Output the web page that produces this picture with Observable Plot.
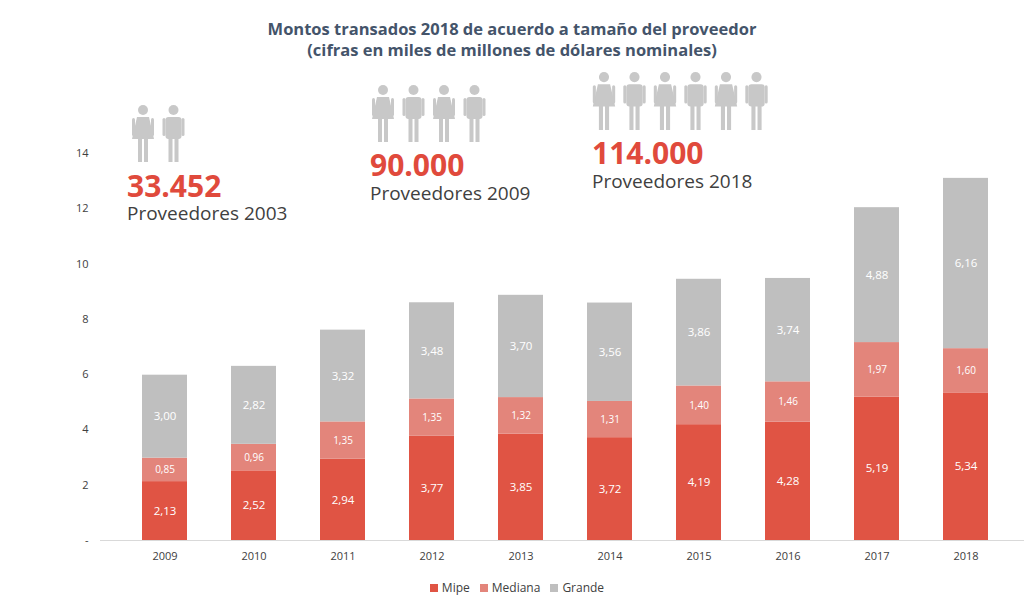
<!DOCTYPE html>
<html><head><meta charset="utf-8">
<script src="https://cdn.jsdelivr.net/npm/d3@7"></script>
<script src="https://cdn.jsdelivr.net/npm/@observablehq/plot@0.6"></script>
<style>
body{margin:0;background:#fff;font-family:"Open Sans",sans-serif;}
#wrap{position:relative;width:1024px;height:610px;}
#title{position:absolute;top:18px;left:0;width:1024px;text-align:center;font-weight:bold;font-size:16.5px;color:#44546a;line-height:21px;}
#chart{position:absolute;top:0;left:0;}
#legend{position:absolute;top:579px;left:0;width:1024px;text-align:center;font-size:12px;color:#404040;}
#legend span.sw{display:inline-block;width:8px;height:8px;margin:0 4px 0 10px;}
#over{position:absolute;top:0;left:0;}
</style></head><body>
<div id="wrap">
<div id="chart"></div>
<div id="title">Montos transados 2018 de acuerdo a tamaño del proveedor<br>(cifras en miles de millones de dólares nominales)</div>
<svg id="over" width="1024" height="240"></svg>
<div id="legend"></div>
</div>
<script>
const years=["2009","2010","2011","2012","2013","2014","2015","2016","2017","2018"];
const mipe=[2.13,2.52,2.94,3.77,3.85,3.72,4.19,4.28,5.19,5.34];
const mediana=[0.85,0.96,1.35,1.35,1.32,1.31,1.40,1.46,1.97,1.60];
const grande=[3.00,2.82,3.32,3.48,3.70,3.56,3.86,3.74,4.88,6.16];
const series=["Mipe","Mediana","Grande"];
const colors=["#e05444","#e3857b","#bfbfbf"];
const callouts=[
 {num:"33.452",label:"Proveedores 2003",n:2,x:127,ix:143,iy:105,sz:57,ny:197,ly:220},
 {num:"90.000",label:"Proveedores 2009",n:4,x:370,ix:383,iy:85,sz:57,ny:176,ly:200},
 {num:"114.000",label:"Proveedores 2018",n:6,x:592,ix:604,iy:72,sz:58,ny:164,ly:188}
];
const data=[];
years.forEach((y,i)=>{[mipe,mediana,grande].forEach((arr,k)=>data.push({year:y,serie:series[k],v:arr[i]}));});
const fmt=d=>d.toFixed(2).replace(".",",");
const chart=Plot.plot({
 width:1024,height:570,marginTop:153,marginBottom:30,marginLeft:100,marginRight:0,
 style:{fontFamily:"Open Sans",fontSize:"11px",color:"#404040"},
 x:{domain:years,range:[95,1035],padding:0.49,label:null,tickSize:0,tickPadding:12},
 y:{domain:[0,14],ticks:[0,2,4,6,8,10,12,14],tickFormat:d=>d===0?"-":d,label:null,tickSize:0,tickPadding:12},
 color:{domain:series,range:colors},
 marks:[
  Plot.ruleY([0],{stroke:"#d9d9d9"}),
  Plot.barY(data,Plot.stackY({x:"year",y:"v",fill:"serie",z:"serie",order:series})),
  Plot.text(data,Plot.stackY({x:"year",y:"v",z:"serie",order:series,text:d=>fmt(d.v),fill:"white",fontSize:d=>d.serie==="Mediana"?10:11.5,fontWeight:d=>d.serie==="Mipe"?"bold":"normal"}))
 ]
});
document.getElementById("chart").appendChild(chart);
document.getElementById("legend").innerHTML=series.map((s,i)=>`<span class="sw" style="background:${colors[i]}"></span>${s}`).join("");
const svg=d3.select("#over");
function person(g,cx,top,h,female){
 const s=h/57, c="#c8c8c8";
 g.append("circle").attr("cx",cx).attr("cy",top+5*s).attr("r",5*s).attr("fill",c);
 if(female){
  g.append("path").attr("d",`M${cx-6*s},${top+12*s} L${cx+6*s},${top+12*s} L${cx+11*s},${top+34*s} L${cx-11*s},${top+34*s}Z`).attr("fill",c);
 } else {
  g.append("rect").attr("x",cx-8*s).attr("y",top+12*s).attr("width",16*s).attr("height",22*s).attr("rx",3*s).attr("fill",c);
 }
 g.append("rect").attr("x",cx-11*s).attr("y",top+13*s).attr("width",3*s).attr("height",18*s).attr("rx",1.5*s).attr("fill",c);
 g.append("rect").attr("x",cx+8*s).attr("y",top+13*s).attr("width",3*s).attr("height",18*s).attr("rx",1.5*s).attr("fill",c);
 g.append("rect").attr("x",cx-5*s).attr("y",top+33*s).attr("width",4*s).attr("height",24*s).attr("fill",c);
 g.append("rect").attr("x",cx+1*s).attr("y",top+33*s).attr("width",4*s).attr("height",24*s).attr("fill",c);
}
callouts.forEach(c=>{
 for(let i=0;i<c.n;i++) person(svg,c.ix+i*30.5,c.iy,c.sz,i%2===0);
 svg.append("text").attr("x",c.x).attr("y",c.ny).text(c.num).attr("fill","#e04a3c").attr("font-size",30).attr("font-weight","bold").attr("font-family","Open Sans");
 svg.append("text").attr("x",c.x).attr("y",c.ly).text(c.label).attr("fill","#404040").attr("font-size",19).attr("font-family","Open Sans");
});
</script>
</body></html>
